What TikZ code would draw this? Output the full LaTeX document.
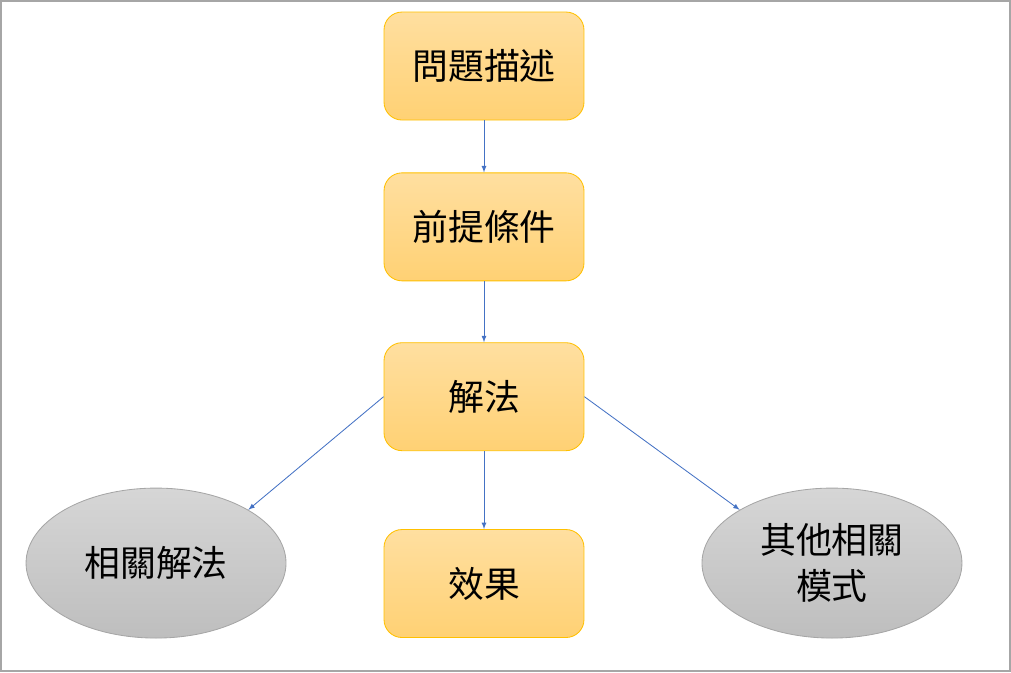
\documentclass[tikz,border=0pt]{standalone}
\usepackage{fontspec}
\usepackage{xcolor}
\usepackage{tikz}
\usetikzlibrary{positioning, arrows.meta, calc, shapes.geometric}
\newfontfamily\cjk{Noto Sans CJK TC}

\definecolor{boxtop}{HTML}{FFDFA0}
\definecolor{boxbot}{HTML}{FFD174}
\definecolor{boxline}{HTML}{FFC000}
\definecolor{elltop}{HTML}{D6D6D6}
\definecolor{ellbot}{HTML}{BEBEBE}
\definecolor{ellline}{HTML}{A6A6A6}
\definecolor{arrowblue}{HTML}{4472C4}

\begin{document}
\begin{tikzpicture}[>=latex, font=\cjk\fontsize{25.5pt}{32.6pt}\selectfont,
  stepbox/.style={draw=boxline, rectangle, rounded corners=0.45cm, minimum width=5cm, minimum height=2.7cm, align=center, top color=boxtop, bottom color=boxbot, line width=0.6pt},
  relbox/.style={draw=ellline, ellipse, minimum width=6.5cm, minimum height=3.75cm, align=center, top color=elltop, bottom color=ellbot, line width=0.6pt},
  link/.style={->, draw=arrowblue, line width=0.6pt}]

  % frame of the picture
  \draw [gray!70, line width=1.2pt] (0.02,-0.02) rectangle (25.255,-16.78);
  \useasboundingbox (0,0) rectangle (25.275,-16.8);

  % --- main chain of boxes ---
  \node [stepbox] (problem) at (12.1,-1.65) {問題描述};
  \node [stepbox, below=1.3cm of problem] (premise) {前提條件};
  \node [stepbox, below=1.525cm of premise] (solve) {解法};
  \node [stepbox, below=1.95cm of solve] (effect) {效果};

  % --- related nodes (ellipses) ---
  \node [relbox] (related) at ([xshift=-8.2cm, yshift=-4.16cm]solve.center) {相關解法};
  \node [relbox] (others) at ([xshift=8.7cm, yshift=-4.16cm]solve.center) {其他相關\\模式};

  % connectors
  \draw [link] (problem) -- (premise);
  \draw [link] (premise) -- (solve);
  \draw [link] (solve) -- (effect);
  \draw [link] (solve.west) -- (related.30);
  \draw [link] (solve.east) -- (others.150);

\end{tikzpicture}
\end{document}
